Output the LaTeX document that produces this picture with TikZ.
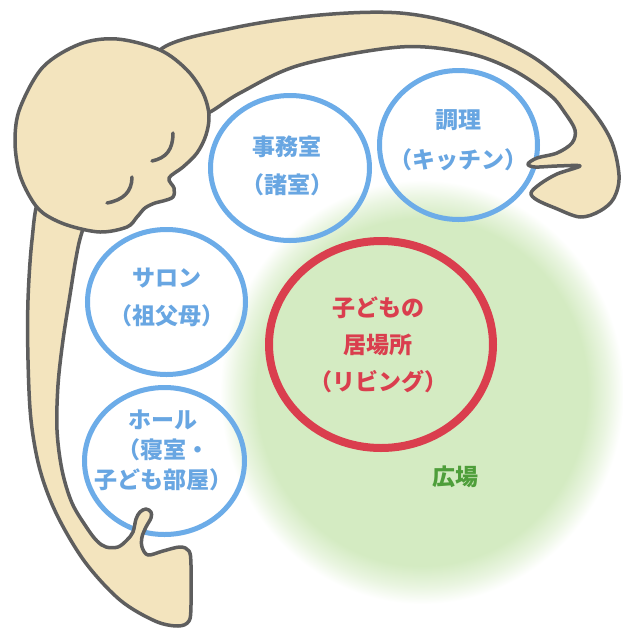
\documentclass[tikz,border=0pt]{standalone}
\usepackage{fontspec}
\newfontfamily\jpfont{Noto Sans CJK JP}
\usetikzlibrary{shapes.geometric}

\definecolor{ringblue}{RGB}{108,172,232}
\definecolor{textblue}{RGB}{104,166,226}
\definecolor{ringred}{RGB}{218,62,78}
\definecolor{leafgreen}{RGB}{78,158,58}
\definecolor{glowgreen}{RGB}{212,235,194}
\definecolor{skin}{RGB}{243,228,190}
\definecolor{inkgray}{RGB}{94,94,94}

% soft green field with a blurred rim
\pgfdeclareradialshading{fieldglow}{\pgfpoint{0bp}{0bp}}{%
  color(0bp)=(glowgreen); color(20.5bp)=(glowgreen);
  color(23bp)=(glowgreen!50!white); color(25bp)=(white); color(50bp)=(white)}

\tikzset{
  roomring/.style={ellipse, draw=ringblue, line width=5pt, inner sep=0pt},
  corering/.style={ellipse, draw=ringred, line width=8pt, inner sep=0pt},
  roomtext/.style={text=textblue, align=center, inner sep=0pt,
    font=\jpfont\bfseries\fontsize{23}{38}\selectfont},
  coretext/.style={text=ringred, align=center, inner sep=0pt,
    font=\jpfont\bfseries\fontsize{23}{37}\selectfont},
  fieldtext/.style={text=leafgreen, inner sep=0pt,
    font=\jpfont\bfseries\fontsize{23}{28}\selectfont},
  skinshape/.style={fill=skin, draw=inkgray, line width=3.5pt, line join=round},
  eyeline/.style={draw=inkgray, line width=3.5pt, line cap=round},
}

\begin{document}
\begin{tikzpicture}[x=1pt, y=-1pt]
\useasboundingbox (0,0) rectangle (623,630);
\fill[white] (0,0) rectangle (623,630);

% open field
\shade[shading=fieldglow] (422,392) ellipse [x radius=202, y radius=212];

% rooms
\node[roomring, minimum width=159pt, minimum height=145pt] (officering) at (290,168) {};
\node[roomring, minimum width=158pt, minimum height=149pt] (kitchenring) at (458.5,145) {};
\node[roomring, minimum width=158pt, minimum height=145pt] (salonring) at (166.5,302) {};
\node[roomring, minimum width=160pt, minimum height=147pt] (hallring) at (164.5,461) {};
\node[corering, minimum width=224pt, minimum height=207pt] (livingring) at (381,344.5) {};

% body and left hand
\filldraw[skinshape] plot[smooth cycle, tension=0.55] coordinates {
  (70,150) (40,195) (32,240) (28,300) (28,360) (31,420) (40,470) (57,515)
  (85,562) (120,600) (155,621) (178,626) (189,621) (191,605) (191,565)
  (189,551) (180,547) (163,551) (148,555) (142,547) (142,537) (146,527)
  (151,518) (151,512) (146,509) (140,512) (136,519) (133,532) (127,540)
  (118,547) (106,547) (97,541) (87,528) (72,503) (62,470) (57,430)
  (58,385) (63,340) (70,295) (76,258) (82,232) (100,180)};

% arm reaching over the rooms, with the right hand
\filldraw[skinshape] plot[smooth cycle, tension=0.55] coordinates {
  (150,100) (160,50) (233,28) (320,15) (400,13) (467,27) (533,57)
  (583,100) (610,138) (619,175) (614,198) (600,211) (580,217) (555,208)
  (537,200) (531,193) (540,184) (557,174) (580,166) (557,166) (535,167)
  (528,164) (537,158) (557,153) (572,143) (575,130) (565,113) (550,95)
  (513,70) (467,53) (400,47) (300,65) (240,93) (208,113) (180,120)};

% head
\filldraw[skinshape] plot[smooth cycle, tension=0.55] coordinates {
  (117,39) (160,50) (187,70) (203,93) (209,115) (206,135) (197,153)
  (183,167) (169,178) (174,188) (173,197) (163,201) (155,203) (145,208)
  (137,217) (127,227) (100,232) (67,225) (43,213) (30,197) (19,172)
  (15,140) (20,108) (43,67) (80,44)};

% closed eyes
\draw[eyeline] (173,133) .. controls (173,150) and (166,158) .. (152,161);
\draw[eyeline] (132,177) .. controls (132,192) and (123,200) .. (107,203);

% labels
\node[roomtext] (office) at (287,166) {事務室\\（諸室）};
\node[roomtext, font=\jpfont\bfseries\fontsize{23}{40}\selectfont] (kitchen) at (458,140) {調理\\（キッチン）};
\node[roomtext] (salon) at (167,297) {サロン\\（祖父母）};
\node[roomtext, font=\jpfont\bfseries\fontsize{23}{30}\selectfont] (hall) at (163,450) {ホール\\（寝室・\\子ども部屋）};
\node[coretext] (living) at (378,345) {子どもの\\居場所\\（リビング）};
\node[fieldtext] (plaza) at (455,477) {広場};
\end{tikzpicture}
\end{document}
